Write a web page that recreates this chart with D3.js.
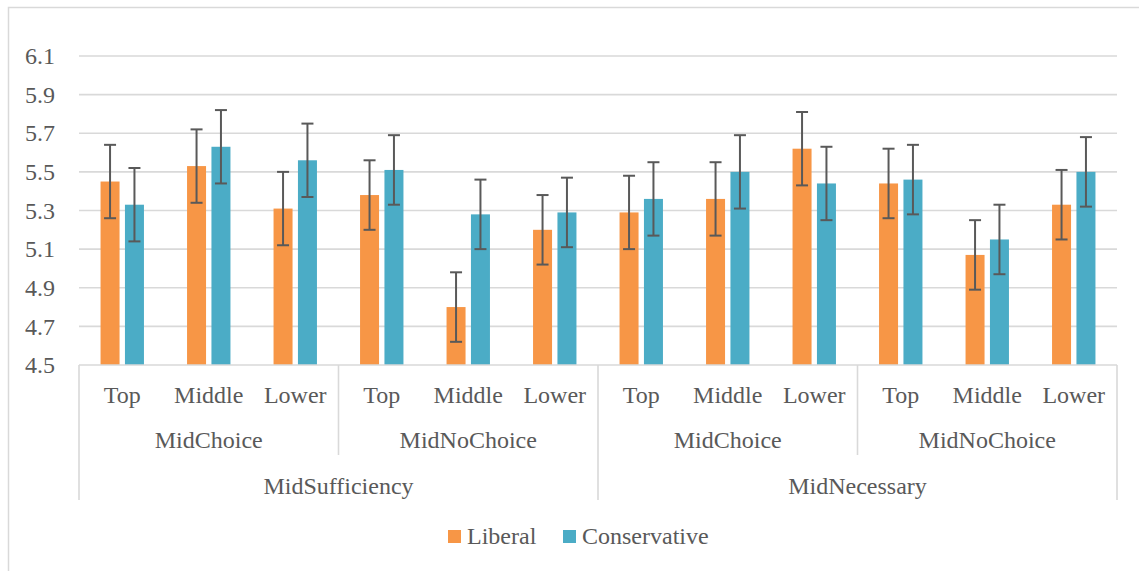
<!DOCTYPE html>
<html>
<head>
<meta charset="utf-8">
<script src="https://cdn.jsdelivr.net/npm/d3@7"></script>
<style>
  html, body { margin: 0; padding: 0; background: #fff; }
  svg { display: block; }
  text { font-family: "Liberation Serif", "Times New Roman", serif; fill: #595959; }
</style>
</head>
<body>
<svg id="chart" width="1139" height="571"></svg>
<script>
// Category hierarchy: condition > choice type > position
const conditions = ["MidSufficiency", "MidNecessary"];
const choiceTypes = ["MidChoice", "MidNoChoice"];
const positions = ["Top", "Middle", "Lower"];

// Mean ratings, in leaf order (condition, choice type, position)
const liberal =      [5.45, 5.53, 5.31, 5.38, 4.80, 5.20, 5.29, 5.36, 5.62, 5.44, 5.07, 5.33];
const conservative = [5.33, 5.63, 5.56, 5.51, 5.28, 5.29, 5.36, 5.50, 5.44, 5.46, 5.15, 5.50];
// Error bar half-widths
const liberalErr =      [0.19, 0.19, 0.19, 0.18, 0.18, 0.18, 0.19, 0.19, 0.19, 0.18, 0.18, 0.18];
const conservativeErr = [0.19, 0.19, 0.19, 0.18, 0.18, 0.18, 0.19, 0.19, 0.19, 0.18, 0.18, 0.18];

const yTicks = [4.5, 4.7, 4.9, 5.1, 5.3, 5.5, 5.7, 5.9, 6.1];
const seriesNames = ["Liberal", "Conservative"];
const seriesColors = ["#F79646", "#4BACC6"];

const svg = d3.select("#chart");
const plot = { left: 79, right: 1117, top: 56, bottom: 365 };
const gridColor = "#d9d9d9";
const textColor = "#595959";

// Outer chart frame
svg.append("rect")
  .attr("x", 8.5).attr("y", 7.5)
  .attr("width", 1150).attr("height", 600)
  .attr("fill", "none").attr("stroke", gridColor).attr("stroke-width", 1.5);

// Leaf categories
const leaves = [];
conditions.forEach(c => choiceTypes.forEach(t => positions.forEach(p => leaves.push({ c, t, p }))));
leaves.forEach((d, i) => {
  d.i = i;
  d.values = [liberal[i], conservative[i]];
  d.errs = [liberalErr[i], conservativeErr[i]];
});

const x = d3.scaleBand().domain(d3.range(leaves.length)).range([plot.left, plot.right]).paddingInner(0).paddingOuter(0);
const y = d3.scaleLinear().domain([4.5, 6.1]).range([plot.bottom, plot.top]);
const barW = 19, barGap = 5.4;
const xs = d3.scaleOrdinal().domain([0, 1]).range([-(barGap / 2 + barW), barGap / 2]);

// Gridlines
svg.append("g").selectAll("line").data(yTicks.slice(1)).join("line")
  .attr("x1", plot.left).attr("x2", plot.right)
  .attr("y1", d => y(d)).attr("y2", d => y(d))
  .attr("stroke", gridColor).attr("stroke-width", 1.6);

// Y axis labels
const yAxis = d3.axisLeft(y).tickValues(yTicks).tickFormat(d3.format(".1f")).tickSize(0).tickPadding(24);
const yg = svg.append("g").attr("transform", `translate(${plot.left},0)`).call(yAxis);
yg.select(".domain").remove();
yg.selectAll("text").attr("font-size", 24).attr("font-family", "Liberation Serif, serif").attr("fill", textColor).attr("dy", "0.32em");

// Bars
const groups = svg.append("g").selectAll("g").data(leaves).join("g")
  .attr("transform", d => `translate(${x(d.i) + x.bandwidth() / 2},0)`);

groups.selectAll("rect").data(d => d.values.map((v, s) => ({ v, s }))).join("rect")
  .attr("x", d => xs(d.s))
  .attr("width", barW)
  .attr("y", d => y(d.v))
  .attr("height", d => y(4.5) - y(d.v))
  .attr("fill", d => seriesColors[d.s]);

// Error bars
const errData = d => d.values.map((v, s) => ({ v, e: d.errs[s], s }));
const eg = groups.selectAll("g.err").data(errData).join("g").attr("class", "err")
  .attr("transform", d => `translate(${xs(d.s) + barW / 2},0)`);
eg.append("line").attr("x1", 0).attr("x2", 0)
  .attr("y1", d => y(d.v + d.e)).attr("y2", d => y(d.v - d.e));
eg.append("line").attr("x1", -6).attr("x2", 6)
  .attr("y1", d => y(d.v + d.e)).attr("y2", d => y(d.v + d.e));
eg.append("line").attr("x1", -6).attr("x2", 6)
  .attr("y1", d => y(d.v - d.e)).attr("y2", d => y(d.v - d.e));
eg.selectAll("line").attr("stroke", "#595959").attr("stroke-width", 2);

// Category axis (multi-level)
const axisG = svg.append("g");
axisG.append("line")
  .attr("x1", plot.left).attr("x2", plot.right)
  .attr("y1", plot.bottom).attr("y2", plot.bottom)
  .attr("stroke", gridColor).attr("stroke-width", 1.6);

const perType = positions.length;
const perCond = choiceTypes.length * perType;
const typeGroups = d3.range(conditions.length * choiceTypes.length).map(k => ({
  label: choiceTypes[k % choiceTypes.length], start: k * perType, end: (k + 1) * perType
}));
const condGroups = conditions.map((c, k) => ({ label: c, start: k * perCond, end: (k + 1) * perCond }));
const edge = i => i < leaves.length ? x(i) : plot.right;

// Separator lines: condition boundaries run deeper than choice-type boundaries
const bounds = d3.range(0, leaves.length + 1, perType).map(i => ({ i, deep: i % perCond === 0 }));
axisG.selectAll("line.sep").data(bounds).join("line").attr("class", "sep")
  .attr("x1", d => edge(d.i)).attr("x2", d => edge(d.i))
  .attr("y1", plot.bottom).attr("y2", d => d.deep ? 500 : 455)
  .attr("stroke", gridColor).attr("stroke-width", 1.6);

axisG.selectAll("text.leaf").data(leaves).join("text").attr("class", "leaf")
  .attr("x", d => x(d.i) + x.bandwidth() / 2).attr("y", 403)
  .attr("text-anchor", "middle").attr("font-size", 24).text(d => d.p);

axisG.selectAll("text.type").data(typeGroups).join("text").attr("class", "type")
  .attr("x", d => (edge(d.start) + edge(d.end)) / 2).attr("y", 448)
  .attr("text-anchor", "middle").attr("font-size", 24).text(d => d.label);

axisG.selectAll("text.cond").data(condGroups).join("text").attr("class", "cond")
  .attr("x", d => (edge(d.start) + edge(d.end)) / 2).attr("y", 494)
  .attr("text-anchor", "middle").attr("font-size", 24).text(d => d.label);

// Legend
const legend = svg.append("g");
const legendX = [448, 563];
seriesNames.forEach((name, s) => {
  legend.append("rect").attr("x", legendX[s]).attr("y", 530).attr("width", 13).attr("height", 13)
    .attr("fill", seriesColors[s]);
  legend.append("text").attr("x", legendX[s] + 19).attr("y", 544).attr("font-size", 24).text(name);
});
</script>
</body>
</html>
